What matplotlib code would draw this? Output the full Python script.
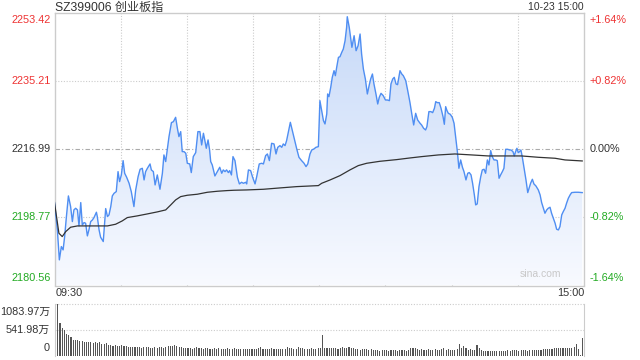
import matplotlib
matplotlib.use('Agg')
import matplotlib.pyplot as plt
import numpy as np
from matplotlib.colors import LinearSegmentedColormap
from matplotlib.patches import PathPatch

# ---------------- data ----------------
title = 'SZ399006 创业板指'
stamp = '10-23 15:00'
prev_close = 2216.99
price_ticks = [2180.56, 2198.77, 2216.99, 2235.21, 2253.42]
price_tick_labels = ['2180.56', '2198.77', '2216.99', '2235.21', '2253.42']
pct_tick_labels = ['-1.64%', '-0.82%', '0.00%', '+0.82%', '+1.64%']
vol_ticks = [0, 541.98, 1083.97]
vol_tick_labels = ['0', '541.98万', '1083.97万']
time_labels = ['09:30', '15:00']

price_t = [0.0, 1.3, 2.2, 3.1, 3.9, 4.6, 5.4, 6.3, 7.3, 8.1, 8.8, 9.6, 10.4, 11.1, 11.9, 12.6, 13.4, 14.1, 14.9, 15.6,
           16.4, 17.2, 17.9, 19.0, 19.4, 20.2, 20.9, 22.1, 22.7, 23.2, 24.0, 24.7, 25.5, 26.2, 27.0, 28.0, 28.8, 29.5,
           30.3, 31.1, 31.8, 32.7, 33.8, 34.8, 36.0, 36.8, 37.9, 38.8, 39.8, 40.6, 41.3, 42.1, 43.3, 43.9, 44.8, 45.6,
           46.6, 47.8, 48.9, 49.6, 50.4, 51.1, 51.9, 53.0, 53.9, 54.9, 55.7, 56.4, 57.2, 57.9, 58.7, 59.5, 60.2, 61.3,
           62.0, 62.9, 64.0, 65.0, 65.9, 66.7, 67.5, 68.1, 68.8, 69.6, 70.3, 70.8, 71.5, 72.7, 73.8, 74.9, 75.8, 76.5,
           77.3, 78.0, 78.8, 79.4, 80.2, 80.9,
           81.8, 82.9, 83.8, 84.8, 85.6, 86.7, 87.1, 87.9, 88.9, 89.8, 90.9, 91.6, 92.8, 93.9, 94.7, 95.7, 96.5, 97.4,
           98.4, 99.5, 100.4, 101.2, 102.2, 103.0, 103.7, 104.5, 105.2, 106.3, 106.9, 107.8, 108.7, 109.8, 110.8,
           112.0, 113.1, 114.0, 114.8, 115.8, 116.6, 117.6, 118.5, 119.6, 120.3, 121.1, 121.9, 122.6, 123.4, 123.8,
           124.4, 125.2, 125.9, 126.7, 127.3, 127.9, 128.7, 129.4, 130.2, 130.9, 131.7, 132.4, 132.7, 133.6, 134.2,
           134.8, 135.8, 136.7, 137.6, 138.5, 139.2, 140.0, 140.9, 141.8, 142.6, 143.3, 144.1, 144.8, 145.7, 146.5,
           147.2, 148.0, 149.0, 150.0, 150.9, 151.8, 152.5, 153.3, 154.0, 154.8, 155.5, 156.6, 157.4, 158.1, 159.2,
           160.1, 161.1,
           161.9, 162.8, 163.7, 164.6, 165.7, 166.4, 167.3, 168.2, 168.8, 169.7, 170.6, 171.4, 172.2, 172.8, 173.5,
           174.4, 175.2, 176.1, 176.7, 177.3, 177.9, 178.5, 179.4, 180.3, 181.1, 181.8, 182.6, 183.3, 184.1, 184.9,
           185.6, 186.5, 187.3, 188.0, 188.8, 189.5, 190.3, 190.9, 191.6, 192.4, 193.2, 193.9, 194.7, 195.4, 196.2,
           196.9, 197.7, 198.4, 199.2, 200.0, 200.7, 201.5, 202.2, 203.0, 203.7, 204.5, 205.4, 206.2, 206.9, 207.8,
           208.4, 209.0, 209.6, 210.2, 210.8, 211.4, 212.0, 213.0, 213.7, 214.5, 215.1, 215.8, 216.6, 217.3, 218.2,
           219.3, 220.1, 220.8, 221.6, 222.3, 223.1, 223.8, 224.6, 225.3, 226.1, 226.9, 227.6, 228.4, 229.1, 229.9,
           230.6, 231.4, 232.1, 232.9, 233.7, 234.4, 235.9, 237.4, 239.2]
price_v = [2202.73, 2195.43, 2187.41, 2190.97, 2190.08, 2193.64, 2198.99, 2204.51, 2201.66, 2197.65, 2200.77,
           2201.21, 2200.77, 2196.49, 2202.73, 2196.76, 2197.38, 2197.21, 2193.82, 2195.43, 2197.65, 2198.10,
           2198.72, 2200.15, 2198.99, 2195.43, 2193.47, 2192.31, 2197.21, 2201.13, 2198.99, 2199.43, 2201.66,
           2204.51, 2205.22, 2205.67, 2211.01, 2208.34, 2210.12, 2213.95, 2210.57, 2209.50, 2207.90, 2205.67,
           2201.66, 2206.11, 2209.68, 2211.64, 2211.90, 2208.79, 2211.01, 2211.90, 2213.06, 2211.46, 2211.01,
           2207.45, 2210.12, 2206.29, 2210.57, 2215.47, 2213.69, 2216.80, 2220.37, 2224.11, 2224.37, 2225.53,
           2222.59, 2220.37, 2221.70, 2216.36, 2216.36, 2215.91, 2213.24, 2213.06, 2210.75, 2215.02, 2216.09,
           2221.70, 2221.70, 2218.14, 2221.26, 2219.48, 2217.25, 2219.48, 2216.80, 2213.69, 2212.80, 2209.85,
           2211.01, 2212.17, 2210.57, 2211.46, 2211.01, 2211.46, 2210.75, 2211.28, 2210.12, 2215.02,
           2213.95, 2209.50, 2207.72, 2208.16, 2207.89, 2208.16, 2207.72, 2211.46, 2211.28, 2209.50, 2207.72,
           2209.50, 2213.06, 2213.24, 2213.06, 2215.29, 2215.73, 2213.95, 2218.58, 2218.41, 2215.73, 2217.51,
           2217.96, 2217.51, 2218.41, 2217.96, 2219.30, 2222.41, 2224.19, 2221.97, 2219.74, 2217.07, 2214.84,
           2213.95, 2213.24, 2212.35, 2213.06, 2215.73, 2216.80, 2217.07, 2217.51, 2217.69, 2229.98, 2227.31,
           2224.64, 2223.75, 2226.42, 2231.77, 2231.05, 2233.55, 2236.22, 2238.00, 2236.66, 2238.89, 2241.56,
           2241.74, 2242.90, 2243.79, 2246.02, 2249.58, 2252.43, 2249.58, 2246.91, 2244.24, 2247.35, 2243.34,
           2244.68, 2247.80, 2242.45, 2238.45, 2235.77, 2231.77, 2234.00, 2235.77, 2237.11, 2234.44, 2231.77,
           2229.09, 2230.87, 2231.94, 2231.32, 2230.16, 2230.16, 2229.98, 2234.44, 2235.77, 2236.22, 2234.44,
           2234.26, 2238.00, 2237.11, 2236.66, 2235.33, 2232.66, 2229.54,
           2226.60, 2223.48, 2226.60, 2224.82, 2223.93, 2223.48, 2222.59, 2222.15, 2223.04, 2227.05, 2227.05,
           2226.78, 2227.94, 2229.72, 2229.45, 2229.45, 2227.94, 2225.71, 2223.66, 2228.38, 2227.31, 2226.60,
           2226.33, 2225.53, 2223.93, 2220.37, 2216.36, 2211.90, 2214.13, 2212.17, 2211.01, 2208.79, 2210.57,
           2210.75, 2210.12, 2207.90, 2204.78, 2202.11, 2202.37, 2207.01, 2209.68, 2211.46, 2211.64, 2210.57,
           2214.13, 2212.79, 2216.62, 2215.02, 2214.13, 2214.13, 2213.95, 2209.23, 2210.12, 2211.01, 2211.90,
           2216.98, 2216.98, 2216.80, 2216.80, 2216.36, 2215.20, 2216.36, 2217.25, 2216.09, 2216.36, 2216.80,
           2215.02, 2211.46, 2208.79, 2205.40, 2206.56, 2207.90, 2208.96, 2207.72, 2207.18, 2206.11, 2204.78,
           2202.73, 2201.21, 2199.88, 2200.77, 2201.21, 2201.48, 2199.88, 2198.54, 2197.21, 2195.60, 2195.42,
           2196.31, 2199.43, 2200.32, 2201.21, 2202.55, 2203.89, 2204.78, 2205.40, 2205.49, 2205.49, 2205.40]

avg_t = [0, 2.0, 3.5, 5.1, 7.3, 10.4, 14.9, 19.4, 24.0, 27.7, 30.7, 33.0, 37.5, 42.1, 46.6, 50.4, 52.7, 54.9, 57.2,
         60.2, 64.7, 69.3, 73.8, 78.3, 81.4, 87.1, 94.7, 102.2, 109.8, 119.6, 121.1, 124.9, 129.4, 133.9, 137.7,
         141.5, 147.5, 155.1, 161.1, 166.4, 174.0, 181.5, 189.1, 196.6, 204.2, 211.7, 219.3, 226.9, 231.4, 239.2]
avg_v = [2202.73, 2194.54, 2193.64, 2194.98, 2196.14, 2196.49, 2196.49, 2196.49, 2196.49, 2196.94, 2197.83,
         2198.72, 2199.17, 2199.70, 2200.24, 2200.77, 2202.11, 2203.44, 2204.33, 2204.69, 2204.96, 2205.49,
         2205.76, 2205.94, 2206.03, 2206.11, 2206.29, 2206.65, 2207.00, 2207.27, 2207.89, 2208.78, 2209.94,
         2211.46, 2212.62, 2213.24, 2213.77, 2214.22, 2214.66, 2215.02, 2215.47, 2215.73, 2215.47, 2215.20,
         2215.20, 2215.20, 2214.84, 2214.58, 2214.13, 2213.86]

# volume per minute (万)
volume_am = [342, 1084, 691, 584, 535, 449, 428, 392, 335, 321, 321, 306, 300, 292, 285, 278, 292, 271, 278, 271,
             285, 250, 235, 264,
             214, 214, 200, 228, 207, 200, 214, 207, 192, 178, 185, 171,
             185, 178, 171, 164, 185, 171, 178, 164, 157, 171, 164, 178, 171, 164, 185,
             200, 192, 207, 221, 200, 185, 171, 164,
             157, 150, 157, 143, 150, 171, 164, 150, 143, 157, 150, 143, 136, 150, 143, 157, 143, 136, 143, 150,
             143, 136,
             150, 143, 136, 129, 143, 136, 143, 136, 129, 143, 136, 150, 178, 143, 136, 129, 143, 150, 136, 129,
             143, 129, 136, 143, 171, 164, 150, 143, 136, 171, 164, 150, 143, 136, 143, 150, 143, 136, 150]
volume_pm = [150, 428,
             157, 150, 164, 157, 150, 157, 143, 164, 171, 164, 157, 171, 164, 157,
             128, 136, 121, 128, 136, 128, 121, 128,
             107, 114, 107, 100, 107, 114, 107, 100, 107, 114, 107, 100, 107, 114, 107, 100, 107,
             157, 164, 150, 143,
             121, 128, 114, 121, 128, 114, 121, 128, 121, 114, 128,
             164,
             121, 128, 114, 121, 114, 128,
             235, 150, 200, 157,
             121, 128, 114, 121,
             214, 157, 121,
             93, 100, 86, 93, 100, 93, 86, 93, 100, 93, 86,
             107, 100, 107, 114, 107, 100, 107, 114, 107, 100, 107, 114, 121, 107, 114, 121,
             128, 135, 143, 135, 143,
             157, 150, 164, 157, 164, 150, 157, 164, 157, 171,
             235, 143, 20, 371]

# ---------------- styling ----------------
RED = '#ee3333'
GREEN = '#22aa22'
DARK = '#333333'
FRAME = '#cccccc'
LINE = '#4f8ef2'
FONT = ['Liberation Sans', 'Noto Sans CJK SC', 'DejaVu Sans']
plt.rcParams['font.family'] = FONT

fig = plt.figure(figsize=(6.4, 3.6), dpi=100)
W, H = 640.0, 360.0
L, R = 54.5, 584.0
ax = fig.add_axes([L / W, 1 - 285.5 / H, (R - L) / W, (285.5 - 13) / H])
axv = fig.add_axes([L / W, 1 - 355.5 / H, (R - L) / W, (355.5 - 304.3) / H])

ymin, ymax = price_ticks[0], price_ticks[-1]
ax.set_xlim(0, 240)
ax.set_ylim(ymin, ymax)
ax.set_xticks([])
ax.set_yticks([])
for s in ax.spines.values():
    s.set_color(FRAME)
    s.set_linewidth(1)

# grid
for t in range(30, 240, 30):
    ax.axvline(t, color=FRAME, lw=0.8, ls=(0, (1, 1.5)), zorder=0.5)
ax.axhline(price_ticks[1], color=FRAME, lw=0.8, ls=(0, (1, 1.5)), zorder=0.5)
ax.axhline(price_ticks[3], color=FRAME, lw=0.8, ls=(0, (1, 1.5)), zorder=0.5)
ax.axhline(prev_close, color='#aaaaaa', lw=0.8, ls=(0, (4, 2, 1, 2)), zorder=0.5)

# gradient fill under price line
poly = ax.fill_between(price_t, price_v, ymin, color='none', lw=0)
path = poly.get_paths()[0]
patch = PathPatch(path, transform=ax.transData, facecolor='none', edgecolor='none')
ax.add_patch(patch)
cmap = LinearSegmentedColormap.from_list('g', ['#f8faff', '#c6d9f8'])
grad = np.linspace(1, 0, 256).reshape(-1, 1)
im = ax.imshow(grad, aspect='auto', cmap=cmap, extent=[0, 240, ymin, ymax], origin='upper', zorder=1,
               interpolation='bilinear')
im.set_clip_path(patch)

ax.plot(price_t, price_v, color=LINE, lw=1.0, zorder=3)
ax.plot(avg_t, avg_v, color=DARK, lw=0.9, zorder=3)

# price labels
tr = ax.get_yaxis_transform()
offs = [5.6, 0, 0, 0, -5.0]
for v, lab, pl, off in zip(price_ticks, price_tick_labels, pct_tick_labels, offs):
    col = RED if v > prev_close + 0.01 else (GREEN if v < prev_close - 0.01 else DARK)
    ax.annotate(lab, xy=(0, v), xycoords=tr, xytext=(-2.5, off), textcoords='offset points',
                ha='right', va='center', fontsize=7.8, color=col)
    ax.annotate(pl, xy=(1, v), xycoords=tr, xytext=(4.0, off), textcoords='offset points',
                ha='left', va='center', fontsize=7.8, color=col)

# time labels
ax.annotate(time_labels[0], xy=(0, 0), xycoords='axes fraction', xytext=(0.5, -5.6),
            textcoords='offset points', ha='left', va='center', fontsize=7.8, color=DARK)
ax.annotate(time_labels[1], xy=(1, 0), xycoords='axes fraction', xytext=(0, -5.6),
            textcoords='offset points', ha='right', va='center', fontsize=7.8, color=DARK)

ax.text(0.918, 0.025, 'sina.com', transform=ax.transAxes, ha='center', va='bottom',
        fontsize=7.5, color='#c8c8c8', zorder=4)

fig.text(55 / W, 1 - 7.5 / H, title, ha='left', va='center', fontsize=8.7, color=DARK)
fig.text(583.5 / W, 1 - 7.5 / H, stamp, ha='right', va='center', fontsize=7.5, color=DARK)

# volume
volume = volume_am + volume_pm
vx = np.arange(len(volume)) + 0.5
axv.bar(vx, volume, width=0.5, color='#555555', lw=0)
axv.set_xlim(0, 240)
axv.set_ylim(0, vol_ticks[-1])
axv.set_xticks([])
axv.set_yticks([])
for k in ['left', 'right']:
    axv.spines[k].set_color(FRAME)
axv.spines['top'].set_visible(False)
axv.spines['bottom'].set_visible(False)
axv.axhline(vol_ticks[1], color=FRAME, lw=0.8, ls=(0, (1, 1.5)), zorder=0)
axv.axhline(vol_ticks[2], color=FRAME, lw=0.8, ls=(0, (1, 1.5)), zorder=0, clip_on=False)
trv = axv.get_yaxis_transform()
voffs = [5.4, 0, -5.3]
for v, lab, off in zip(vol_ticks, vol_tick_labels, voffs):
    axv.annotate(lab, xy=(0, v), xycoords=trv, xytext=(-3.2, off), textcoords='offset points',
                 ha='right', va='center', fontsize=7.8, color=DARK)

fig.savefig('out.png', dpi=100)
